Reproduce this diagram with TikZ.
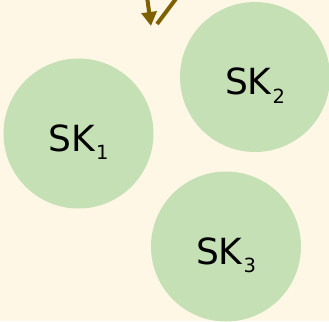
\documentclass[tikz,border=0pt]{standalone}
\usepackage{fontspec}
\setmainfont{DejaVu Sans}
\usetikzlibrary{arrows.meta}

\definecolor{bgcream}{HTML}{FFF7E6}
\definecolor{keygreen}{HTML}{C5E0B4}
\definecolor{arrowbrown}{HTML}{7F6000}

\begin{document}
\begin{tikzpicture}[
    x=1pt, y=-1pt,
    keynode/.style={circle, fill=keygreen, minimum size=150pt, inner sep=0pt},
    keylabel/.style={anchor=base, yshift=-17.5pt, inner sep=0pt, font=\fontsize{36}{40}\selectfont},
    arrow/.style={line width=4pt, draw=arrowbrown, -{Triangle[length=14pt,width=15pt]}}
]
\fill[bgcream] (0,0) rectangle (329,321);
\useasboundingbox (0,0) rectangle (329,321);
\clip (0,0) rectangle (329,321);

% key shares
\node (sk1) [keynode] at (78.5,133.5) {};
\node (sk2) [keynode] at (255,77) {};
\node (sk3) [keynode] at (226,246.5) {};

\node (lbl1) [keylabel] at (sk1.center) {SK\kern1pt\raisebox{-8.5pt}{\fontsize{19.5}{22}\selectfont 1}};
\node (lbl2) [keylabel] at (sk2.center) {SK\kern1pt\raisebox{-8.5pt}{\fontsize{19.5}{22}\selectfont 2}};
\node (lbl3) [keylabel] at (sk3.center) {SK\kern1pt\raisebox{-8.5pt}{\fontsize{19.5}{22}\selectfont 3}};

% Arrows coming in from above
\coordinate (inTop) at (144.5,-22);
\coordinate (inTip) at (151,26);
\coordinate (outFoot) at (157,24);
\coordinate (outTop) at (193,-24);

\draw [arrow] (inTop) -- (inTip);
\draw [arrow] (outFoot) -- (outTop);

\end{tikzpicture}
\end{document}
